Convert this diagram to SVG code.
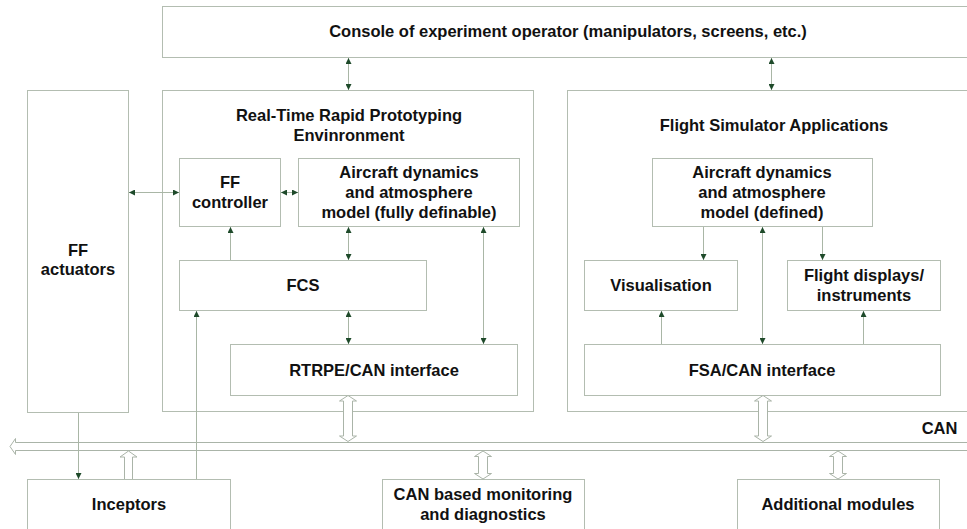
<svg xmlns="http://www.w3.org/2000/svg" width="967" height="529" viewBox="0 0 967 529">
  <style>
    .box { fill: #ffffff; stroke: #b3bdb1; stroke-width: 1; }
    .lbl { font-family: "Liberation Sans", Arial, sans-serif; font-weight: bold; font-size: 16.5px; fill: #111111; text-anchor: middle; }
    .wire { fill: none; stroke: #a9b6a6; stroke-width: 1; }
    .both { marker-start: url(#tip); marker-end: url(#tip); }
    .one { marker-end: url(#tip); }
    .hollow { fill: #ffffff; stroke: #aab4a8; stroke-width: 1; }
  </style>
  <defs>
    <marker id="tip" markerUnits="userSpaceOnUse" markerWidth="6" markerHeight="6" refX="6" refY="3" orient="auto-start-reverse">
      <path d="M0,0 L6,3 L0,6 z" fill="#1e4a2a"/>
    </marker>
  </defs>
  <rect width="967" height="529" fill="#ffffff"/>

  <!-- Nodes -->
  <g id="console">
    <rect class="box" x="162.5" y="6.5" width="830" height="51"/>
    <text class="lbl" x="568" y="37">Console of experiment operator (manipulators, screens, etc.)</text>
  </g>
  <g id="ff-actuators">
    <rect class="box" x="27.5" y="90.5" width="101" height="322"/>
    <text class="lbl" x="78" y="256">FF</text>
    <text class="lbl" x="78" y="275">actuators</text>
  </g>
  <g id="rtrpe">
    <rect class="box" x="162.5" y="90.5" width="371" height="321"/>
    <text class="lbl" x="349" y="120.5">Real-Time Rapid Prototyping</text>
    <text class="lbl" x="349" y="140.5">Envinronment</text>
  </g>
  <g id="fsa">
    <rect class="box" x="567.5" y="90.5" width="414" height="321"/>
    <text class="lbl" x="774" y="130.5">Flight Simulator Applications</text>
  </g>
  <g id="ff-controller">
    <rect class="box" x="179.5" y="158.5" width="101" height="68"/>
    <text class="lbl" x="230" y="188">FF</text>
    <text class="lbl" x="230" y="208">controller</text>
  </g>
  <g id="rtrpe-model">
    <rect class="box" x="298.5" y="158.5" width="221" height="68"/>
    <text class="lbl" x="409" y="178">Aircraft dynamics</text>
    <text class="lbl" x="409" y="198">and atmosphere</text>
    <text class="lbl" x="409" y="218">model (fully definable)</text>
  </g>
  <g id="fcs">
    <rect class="box" x="179.5" y="260.5" width="247" height="50"/>
    <text class="lbl" x="303" y="291">FCS</text>
  </g>
  <g id="rtrpe-can">
    <rect class="box" x="230.5" y="344.5" width="287" height="51"/>
    <text class="lbl" x="374" y="375.5">RTRPE/CAN interface</text>
  </g>
  <g id="fsa-model">
    <rect class="box" x="652.5" y="158.5" width="220" height="68"/>
    <text class="lbl" x="762" y="178">Aircraft dynamics</text>
    <text class="lbl" x="762" y="198">and atmosphere</text>
    <text class="lbl" x="762" y="218">model (defined)</text>
  </g>
  <g id="visualisation">
    <rect class="box" x="584.5" y="260.5" width="153" height="50"/>
    <text class="lbl" x="661" y="291">Visualisation</text>
  </g>
  <g id="flight-displays">
    <rect class="box" x="787.5" y="260.5" width="153" height="50"/>
    <text class="lbl" x="864" y="281">Flight displays/</text>
    <text class="lbl" x="864" y="301">instruments</text>
  </g>
  <g id="fsa-can">
    <rect class="box" x="584.5" y="344.5" width="356" height="51"/>
    <text class="lbl" x="762" y="375.5">FSA/CAN interface</text>
  </g>
  <g id="inceptors">
    <rect class="box" x="27.5" y="479.5" width="203" height="60"/>
    <text class="lbl" x="129" y="510">Inceptors</text>
  </g>
  <g id="monitoring">
    <rect class="box" x="382.5" y="479.5" width="202" height="60"/>
    <text class="lbl" x="483" y="500">CAN based monitoring</text>
    <text class="lbl" x="483" y="520">and diagnostics</text>
  </g>
  <g id="additional">
    <rect class="box" x="737.5" y="479.5" width="202" height="60"/>
    <text class="lbl" x="838" y="510">Additional modules</text>
  </g>

  <!-- Connectors -->
  <g id="connectors">
    <!-- CAN bus -->
    <path class="hollow" d="M972,442.5 H15.5 V438.5 L10,446.5 L15.5,454.5 V450.5 H972"/>
    <text class="lbl" x="939.5" y="433.5">CAN</text>

    <!-- operator console links -->
    <line class="wire both" x1="348.5" y1="58" x2="348.5" y2="90"/>
    <line class="wire both" x1="771.5" y1="58" x2="771.5" y2="90"/>

    <!-- real-time prototyping environment -->
    <line class="wire both" x1="129" y1="192.5" x2="179" y2="192.5"/>
    <line class="wire both" x1="281" y1="192.5" x2="298" y2="192.5"/>
    <line class="wire one" x1="230.5" y1="260" x2="230.5" y2="227"/>
    <line class="wire both" x1="348.5" y1="227" x2="348.5" y2="260"/>
    <line class="wire both" x1="483.5" y1="227" x2="483.5" y2="344"/>
    <line class="wire both" x1="348.5" y1="311" x2="348.5" y2="344"/>
    <line class="wire one" x1="196.5" y1="479" x2="196.5" y2="311"/>
    <line class="wire one" x1="78.5" y1="413" x2="78.5" y2="479"/>

    <!-- flight simulator applications -->
    <line class="wire one" x1="703.5" y1="227" x2="703.5" y2="260"/>
    <line class="wire one" x1="822.5" y1="227" x2="822.5" y2="260"/>
    <line class="wire both" x1="762.5" y1="227" x2="762.5" y2="344"/>
    <line class="wire one" x1="661.5" y1="344" x2="661.5" y2="311"/>
    <line class="wire one" x1="863.5" y1="344" x2="863.5" y2="311"/>

    <!-- bus couplings -->
    <path class="hollow" d="M124.5,479 V457 H120 L128.5,451 L137,457 H132.5 V479"/>
    <path class="hollow" d="M348,395.5 L356.5,401 H352.5 V436 H356.5 L348,441.5 L339.5,436 H343.5 V401 H339.5 Z"/>
    <path class="hollow" d="M763,395.5 L771.5,401 H767.5 V436 H771.5 L763,441.5 L754.5,436 H758.5 V401 H754.5 Z"/>
    <path class="hollow" d="M483,451 L491.5,456.5 H487.5 V473.5 H491.5 L483,479 L474.5,473.5 H478.5 V456.5 H474.5 Z"/>
    <path class="hollow" d="M838,451 L846.5,456.5 H842.5 V473.5 H846.5 L838,479 L829.5,473.5 H833.5 V456.5 H829.5 Z"/>
  </g>
</svg>
